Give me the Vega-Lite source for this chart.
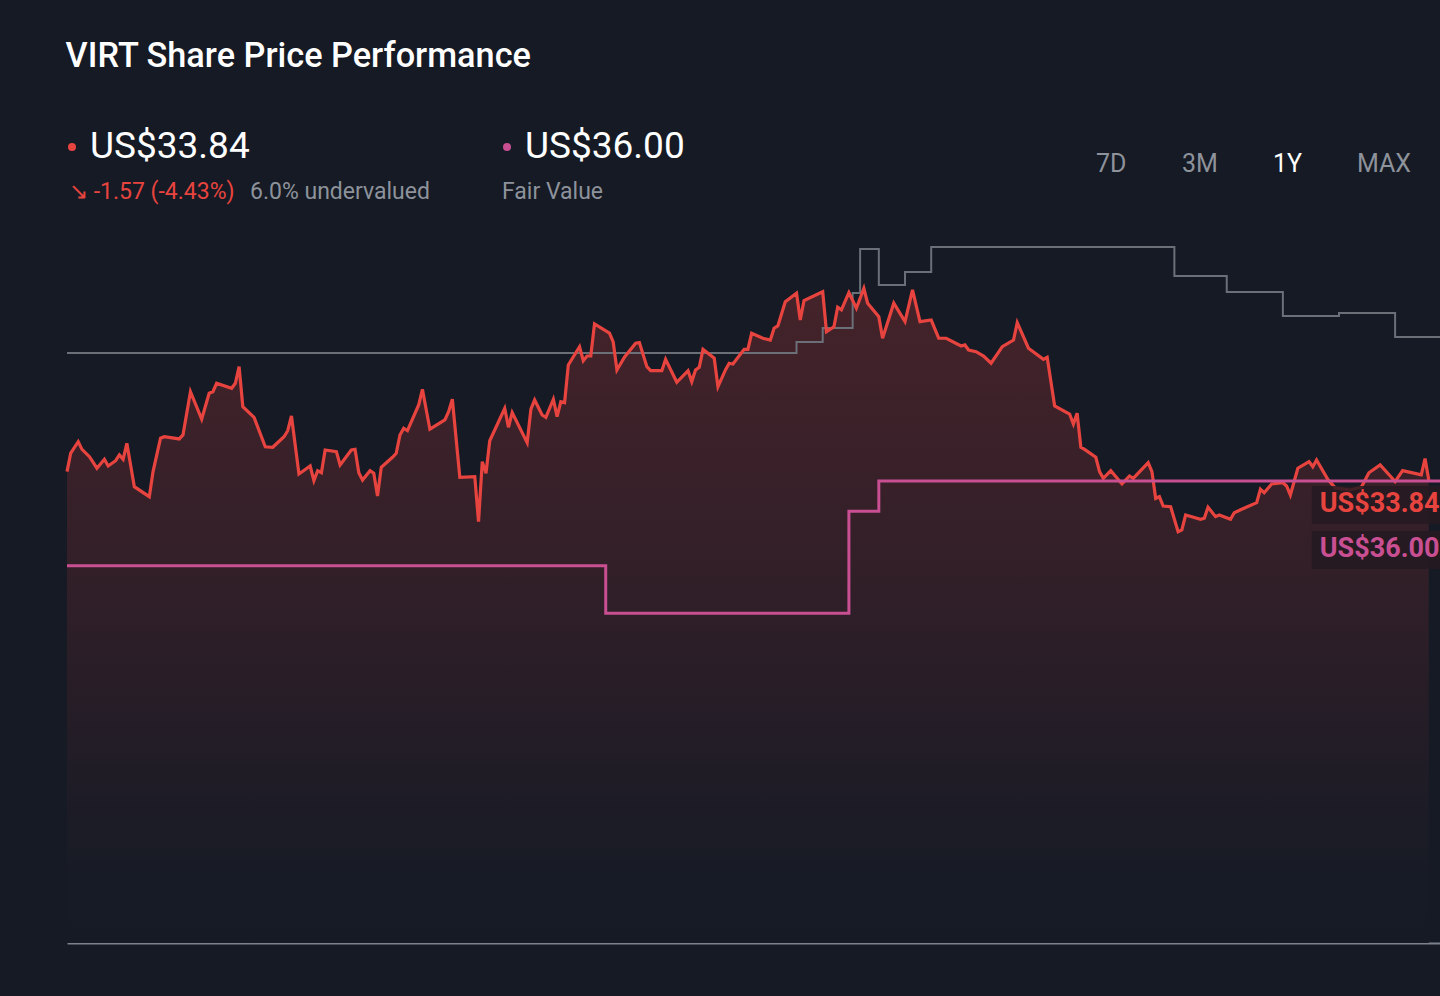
{
  "$schema": "https://vega.github.io/schema/vega-lite/v6.json",
  "width": 1373,
  "height": 833,
  "autosize": {"type": "none"},
  "padding": {"left": 67, "top": 110, "right": 0, "bottom": 53},
  "background": "#151a24",
  "title": {
    "text": "VIRT Share Price Performance",
    "anchor": "start",
    "font": "Roboto",
    "fontSize": 34.3,
    "fontWeight": 500,
    "color": "#ffffff",
    "baseline": "alphabetic",
    "offset": 9,
    "dx": 5
  },
  "datasets": {
    "price": [
      {"date": "2024-11-15", "price": 34.45}, {"date": "2024-11-16", "price": 35.81}, {"date": "2024-11-18", "price": 36.64},
      {"date": "2024-11-19", "price": 36.08}, {"date": "2024-11-21", "price": 35.54}, {"date": "2024-11-23", "price": 34.70},
      {"date": "2024-11-25", "price": 35.35}, {"date": "2024-11-26", "price": 34.86}, {"date": "2024-11-28", "price": 35.25},
      {"date": "2024-11-29", "price": 35.67}, {"date": "2024-11-30", "price": 35.35}, {"date": "2024-12-01", "price": 36.52},
      {"date": "2024-12-03", "price": 33.35}, {"date": "2024-12-07", "price": 32.62}, {"date": "2024-12-08", "price": 34.45},
      {"date": "2024-12-10", "price": 36.89}, {"date": "2024-12-11", "price": 37.00}, {"date": "2024-12-15", "price": 36.84},
      {"date": "2024-12-16", "price": 37.13}, {"date": "2024-12-18", "price": 40.29}, {"date": "2024-12-21", "price": 38.28},
      {"date": "2024-12-23", "price": 40.18}, {"date": "2024-12-24", "price": 40.29}, {"date": "2024-12-25", "price": 40.91},
      {"date": "2024-12-29", "price": 40.54}, {"date": "2024-12-30", "price": 40.91}, {"date": "2024-12-31", "price": 42.12},
      {"date": "2025-01-01", "price": 39.20}, {"date": "2025-01-04", "price": 38.42}, {"date": "2025-01-07", "price": 36.27},
      {"date": "2025-01-09", "price": 36.23}, {"date": "2025-01-12", "price": 37.00}, {"date": "2025-01-13", "price": 37.44},
      {"date": "2025-01-14", "price": 38.52}, {"date": "2025-01-16", "price": 34.28}, {"date": "2025-01-19", "price": 34.86},
      {"date": "2025-01-20", "price": 33.79}, {"date": "2025-01-21", "price": 34.52}, {"date": "2025-01-22", "price": 34.37},
      {"date": "2025-01-23", "price": 36.03}, {"date": "2025-01-26", "price": 35.91}, {"date": "2025-01-27", "price": 34.94},
      {"date": "2025-01-30", "price": 36.03}, {"date": "2025-01-31", "price": 36.08}, {"date": "2025-02-01", "price": 34.37},
      {"date": "2025-02-02", "price": 33.84}, {"date": "2025-02-04", "price": 34.52}, {"date": "2025-02-05", "price": 34.33},
      {"date": "2025-02-06", "price": 32.67}, {"date": "2025-02-07", "price": 34.77}, {"date": "2025-02-10", "price": 35.50},
      {"date": "2025-02-11", "price": 35.79}, {"date": "2025-02-12", "price": 37.13}, {"date": "2025-02-13", "price": 37.62},
      {"date": "2025-02-14", "price": 37.44}, {"date": "2025-02-17", "price": 39.32}, {"date": "2025-02-18", "price": 40.47},
      {"date": "2025-02-20", "price": 37.55}, {"date": "2025-02-24", "price": 38.23}, {"date": "2025-02-25", "price": 38.83},
      {"date": "2025-02-26", "price": 39.74}, {"date": "2025-02-28", "price": 34.04}, {"date": "2025-03-04", "price": 34.08},
      {"date": "2025-03-05", "price": 30.79}, {"date": "2025-03-06", "price": 35.18}, {"date": "2025-03-07", "price": 34.33},
      {"date": "2025-03-08", "price": 36.71}, {"date": "2025-03-12", "price": 39.08}, {"date": "2025-03-13", "price": 37.69},
      {"date": "2025-03-14", "price": 38.76}, {"date": "2025-03-18", "price": 36.57}, {"date": "2025-03-19", "price": 39.01},
      {"date": "2025-03-20", "price": 39.69}, {"date": "2025-03-22", "price": 38.59}, {"date": "2025-03-23", "price": 38.42},
      {"date": "2025-03-25", "price": 39.74}, {"date": "2025-03-26", "price": 38.47}, {"date": "2025-03-27", "price": 39.56},
      {"date": "2025-03-28", "price": 39.49}, {"date": "2025-03-29", "price": 42.25}, {"date": "2025-04-01", "price": 43.58},
      {"date": "2025-04-02", "price": 42.56}, {"date": "2025-04-03", "price": 42.90}, {"date": "2025-04-04", "price": 42.90},
      {"date": "2025-04-05", "price": 45.24}, {"date": "2025-04-09", "price": 44.58}, {"date": "2025-04-10", "price": 43.93},
      {"date": "2025-04-11", "price": 41.88}, {"date": "2025-04-13", "price": 42.81}, {"date": "2025-04-16", "price": 43.83},
      {"date": "2025-04-17", "price": 43.88}, {"date": "2025-04-19", "price": 42.12}, {"date": "2025-04-20", "price": 41.83},
      {"date": "2025-04-23", "price": 41.83}, {"date": "2025-04-24", "price": 42.66}, {"date": "2025-04-27", "price": 40.98},
      {"date": "2025-04-30", "price": 41.83}, {"date": "2025-05-01", "price": 41.03}, {"date": "2025-05-02", "price": 41.88},
      {"date": "2025-05-03", "price": 42.08}, {"date": "2025-05-04", "price": 43.39}, {"date": "2025-05-07", "price": 42.74},
      {"date": "2025-05-08", "price": 40.66}, {"date": "2025-05-10", "price": 41.88}, {"date": "2025-05-11", "price": 42.37},
      {"date": "2025-05-12", "price": 42.32}, {"date": "2025-05-15", "price": 43.39}, {"date": "2025-05-16", "price": 43.39},
      {"date": "2025-05-17", "price": 44.56}, {"date": "2025-05-20", "price": 44.20}, {"date": "2025-05-22", "price": 44.07},
      {"date": "2025-05-23", "price": 44.93}, {"date": "2025-05-24", "price": 45.10}, {"date": "2025-05-26", "price": 46.87},
      {"date": "2025-05-29", "price": 47.49}, {"date": "2025-05-30", "price": 45.53}, {"date": "2025-05-31", "price": 46.95},
      {"date": "2025-06-05", "price": 47.60}, {"date": "2025-06-06", "price": 44.68}, {"date": "2025-06-08", "price": 45.04},
      {"date": "2025-06-09", "price": 46.46}, {"date": "2025-06-10", "price": 46.27}, {"date": "2025-06-12", "price": 47.53},
      {"date": "2025-06-14", "price": 46.39}, {"date": "2025-06-16", "price": 47.85}, {"date": "2025-06-17", "price": 46.76},
      {"date": "2025-06-20", "price": 45.78}, {"date": "2025-06-21", "price": 44.20}, {"date": "2025-06-24", "price": 46.76},
      {"date": "2025-06-27", "price": 45.41}, {"date": "2025-06-29", "price": 47.73}, {"date": "2025-07-01", "price": 45.41},
      {"date": "2025-07-04", "price": 45.53}, {"date": "2025-07-06", "price": 44.20}, {"date": "2025-07-08", "price": 44.20},
      {"date": "2025-07-12", "price": 43.63}, {"date": "2025-07-13", "price": 43.71}, {"date": "2025-07-14", "price": 43.34},
      {"date": "2025-07-16", "price": 43.22}, {"date": "2025-07-18", "price": 42.90}, {"date": "2025-07-20", "price": 42.37},
      {"date": "2025-07-23", "price": 43.58}, {"date": "2025-07-26", "price": 44.07}, {"date": "2025-07-27", "price": 45.34},
      {"date": "2025-07-30", "price": 43.47}, {"date": "2025-08-03", "price": 42.66}, {"date": "2025-08-04", "price": 42.81},
      {"date": "2025-08-06", "price": 39.25}, {"date": "2025-08-10", "price": 38.66}, {"date": "2025-08-11", "price": 37.93},
      {"date": "2025-08-12", "price": 38.72}, {"date": "2025-08-13", "price": 36.23}, {"date": "2025-08-14", "price": 36.08},
      {"date": "2025-08-17", "price": 35.50}, {"date": "2025-08-18", "price": 34.45}, {"date": "2025-08-19", "price": 33.96},
      {"date": "2025-08-21", "price": 34.52}, {"date": "2025-08-24", "price": 33.55}, {"date": "2025-08-26", "price": 34.13},
      {"date": "2025-08-27", "price": 33.96}, {"date": "2025-08-31", "price": 35.10}, {"date": "2025-09-01", "price": 34.45},
      {"date": "2025-09-02", "price": 32.50}, {"date": "2025-09-03", "price": 32.62}, {"date": "2025-09-04", "price": 31.94},
      {"date": "2025-09-06", "price": 31.89}, {"date": "2025-09-08", "price": 30.06}, {"date": "2025-09-09", "price": 30.19},
      {"date": "2025-09-10", "price": 31.28}, {"date": "2025-09-14", "price": 30.97}, {"date": "2025-09-15", "price": 31.04},
      {"date": "2025-09-16", "price": 31.85}, {"date": "2025-09-18", "price": 31.16}, {"date": "2025-09-19", "price": 31.28},
      {"date": "2025-09-22", "price": 30.97}, {"date": "2025-09-23", "price": 31.45}, {"date": "2025-09-25", "price": 31.70},
      {"date": "2025-09-29", "price": 32.18}, {"date": "2025-09-30", "price": 33.16}, {"date": "2025-10-01", "price": 32.91},
      {"date": "2025-10-03", "price": 33.55}, {"date": "2025-10-06", "price": 33.64}, {"date": "2025-10-07", "price": 33.40},
      {"date": "2025-10-08", "price": 32.74}, {"date": "2025-10-10", "price": 34.70}, {"date": "2025-10-13", "price": 35.18},
      {"date": "2025-10-14", "price": 34.81}, {"date": "2025-10-15", "price": 35.30}, {"date": "2025-10-18", "price": 33.89},
      {"date": "2025-10-20", "price": 33.26}, {"date": "2025-10-24", "price": 33.11}, {"date": "2025-10-27", "price": 33.33},
      {"date": "2025-10-29", "price": 34.37}, {"date": "2025-11-01", "price": 34.94}, {"date": "2025-11-04", "price": 34.04},
      {"date": "2025-11-05", "price": 33.72}, {"date": "2025-11-07", "price": 34.52}, {"date": "2025-11-12", "price": 34.21},
      {"date": "2025-11-13", "price": 35.41}, {"date": "2025-11-14", "price": 33.84}
    ],
    "target": [
      {"date": "2024-11-15", "target": 43.12}, {"date": "2025-05-29", "target": 43.93}, {"date": "2025-06-05", "target": 44.95},
      {"date": "2025-06-13", "target": 47.51}, {"date": "2025-06-15", "target": 50.72}, {"date": "2025-06-20", "target": 48.09},
      {"date": "2025-06-27", "target": 49.04}, {"date": "2025-07-04", "target": 50.87}, {"date": "2025-09-07", "target": 48.75},
      {"date": "2025-09-21", "target": 47.58}, {"date": "2025-10-06", "target": 45.83}, {"date": "2025-10-21", "target": 46.05},
      {"date": "2025-11-05", "target": 44.29}, {"date": "2025-11-17", "target": 44.29}
    ],
    "fair": [
      {"date": "2024-11-15", "fair": 29.40}, {"date": "2025-04-08", "fair": 25.70}, {"date": "2025-06-12", "fair": 33.65},
      {"date": "2025-06-20", "fair": 36.00}, {"date": "2025-11-17", "fair": 36.00}
    ],
    "lastPrice": [{"date": "2025-11-14", "price": 33.84, "label": "US$33.84"}],
    "lastFair": [{"date": "2025-11-14", "fair": 36.00, "label": "US$36.00"}]
  },
  "resolve": {"scale": {"y": "independent"}},
  "layer": [
    {
      "data": {"name": "price"},
      "encoding": {
        "x": {
          "field": "date",
          "type": "temporal",
          "title": null,
          "scale": {"type": "utc", "domain": [{"year": 2024, "month": 11, "date": 15, "utc": true}, {"year": 2025, "month": 11, "date": 17, "utc": true}]}
        }
      },
      "layer": [
        {
          "mark": {
            "type": "area",
            "color": {
              "gradient": "linear",
              "x1": 0, "y1": 0, "x2": 0, "y2": 1,
              "stops": [
                {"offset": 0, "color": "#45232a"},
                {"offset": 0.45, "color": "#311f28"},
                {"offset": 0.75, "color": "#1f1c26"},
                {"offset": 0.9, "color": "#171b25"},
                {"offset": 1, "color": "#151a24"}
              ]
            }
          },
          "encoding": {
            "y": {"field": "price", "type": "quantitative", "axis": null, "scale": {"domain": [0, 60.88], "nice": false, "zero": true}}
          }
        },
        {
          "data": {"name": "target"},
          "mark": {"type": "line", "interpolate": "step-after", "color": "#6a6f78", "strokeWidth": 2},
          "encoding": {
            "y": {"field": "target", "type": "quantitative", "axis": null}
          }
        },
        {
          "mark": {"type": "line", "color": "#e8443f", "strokeWidth": 3.2},
          "encoding": {
            "y": {"field": "price", "type": "quantitative", "axis": null}
          }
        },
        {
          "data": {"name": "lastPrice"},
          "mark": {"type": "point", "shape": "M-1,-0.2714H1V0.2714H-1Z", "size": 19600, "filled": true, "color": "#241a21", "opacity": 0.85, "xOffset": -47, "yOffset": 25},
          "encoding": {
            "y": {"field": "price", "type": "quantitative", "axis": null}
          }
        },
        {
          "data": {"name": "lastPrice"},
          "mark": {"type": "text", "font": "Roboto", "fontSize": 27, "fontWeight": "bold", "color": "#e8443f", "align": "left", "baseline": "middle", "dx": -109, "dy": 24},
          "encoding": {
            "y": {"field": "price", "type": "quantitative", "axis": null},
            "text": {"field": "label"}
          }
        }
      ]
    },
    {
      "data": {"name": "fair"},
      "encoding": {
        "x": {"field": "date", "type": "temporal", "title": null}
      },
      "layer": [
        {
          "mark": {"type": "line", "interpolate": "step-after", "color": "#c94f93", "strokeWidth": 3},
          "encoding": {
            "y": {"field": "fair", "type": "quantitative", "axis": null, "scale": {"domain": [0, 64.91], "nice": false, "zero": true}}
          }
        },
        {
          "data": {"name": "lastFair"},
          "mark": {"type": "point", "shape": "M-1,-0.2714H1V0.2714H-1Z", "size": 19600, "filled": true, "color": "#241a21", "opacity": 0.85, "xOffset": -47, "yOffset": 69},
          "encoding": {
            "y": {"field": "fair", "type": "quantitative", "axis": null}
          }
        },
        {
          "data": {"name": "lastFair"},
          "mark": {"type": "text", "font": "Roboto", "fontSize": 27, "fontWeight": "bold", "color": "#c94f93", "align": "left", "baseline": "middle", "dx": -109, "dy": 68},
          "encoding": {
            "y": {"field": "fair", "type": "quantitative", "axis": null},
            "text": {"field": "label"}
          }
        }
      ]
    },
    {
      "data": {"values": [{}]},
      "mark": {"type": "point", "filled": true, "size": 64, "color": "#e8443f", "opacity": 1},
      "encoding": {"x": {"value": 5}, "y": {"value": 37}}
    },
    {
      "data": {"values": [{}]},
      "mark": {"type": "text", "text": "US$33.84", "font": "Roboto", "fontSize": 37, "color": "#ffffff", "align": "left", "baseline": "middle"},
      "encoding": {"x": {"value": 23}, "y": {"value": 37}}
    },
    {
      "data": {"values": [{}]},
      "mark": {"type": "text", "text": "↘ -1.57 (-4.43%)", "font": "Roboto", "fontSize": 23, "color": "#e8443f", "align": "left", "baseline": "middle"},
      "encoding": {"x": {"value": 2}, "y": {"value": 82}}
    },
    {
      "data": {"values": [{}]},
      "mark": {"type": "text", "text": "6.0% undervalued", "font": "Roboto", "fontSize": 23, "color": "#8d929b", "align": "left", "baseline": "middle"},
      "encoding": {"x": {"value": 183}, "y": {"value": 82}}
    },
    {
      "data": {"values": [{}]},
      "mark": {"type": "point", "filled": true, "size": 64, "color": "#c94f93", "opacity": 1},
      "encoding": {"x": {"value": 440}, "y": {"value": 37}}
    },
    {
      "data": {"values": [{}]},
      "mark": {"type": "text", "text": "US$36.00", "font": "Roboto", "fontSize": 37, "color": "#ffffff", "align": "left", "baseline": "middle"},
      "encoding": {"x": {"value": 458}, "y": {"value": 37}}
    },
    {
      "data": {"values": [{}]},
      "mark": {"type": "text", "text": "Fair Value", "font": "Roboto", "fontSize": 23, "color": "#8d929b", "align": "left", "baseline": "middle"},
      "encoding": {"x": {"value": 435}, "y": {"value": 82}}
    },
    {
      "data": {"values": [{}]},
      "mark": {"type": "text", "text": "7D", "font": "Roboto", "fontSize": 25, "color": "#8d929b", "align": "left", "baseline": "middle"},
      "encoding": {"x": {"value": 1029}, "y": {"value": 54}}
    },
    {
      "data": {"values": [{}]},
      "mark": {"type": "text", "text": "3M", "font": "Roboto", "fontSize": 25, "color": "#8d929b", "align": "left", "baseline": "middle"},
      "encoding": {"x": {"value": 1115}, "y": {"value": 54}}
    },
    {
      "data": {"values": [{}]},
      "mark": {"type": "text", "text": "1Y", "font": "Roboto", "fontSize": 25, "color": "#ffffff", "align": "left", "baseline": "middle"},
      "encoding": {"x": {"value": 1206}, "y": {"value": 54}}
    },
    {
      "data": {"values": [{}]},
      "mark": {"type": "text", "text": "MAX", "font": "Roboto", "fontSize": 25, "color": "#8d929b", "align": "left", "baseline": "middle"},
      "encoding": {"x": {"value": 1290}, "y": {"value": 54}}
    }
  ],
  "config": {
    "view": {"stroke": null},
    "axisX": {"domain": true, "domainColor": "#7b828e", "domainWidth": 2, "labels": false, "ticks": false, "grid": false}
  }
}
